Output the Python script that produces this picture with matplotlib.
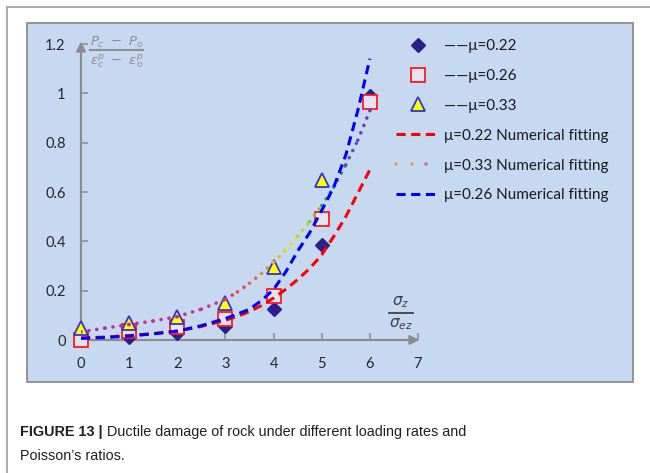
import matplotlib
matplotlib.use("Agg")
import matplotlib.pyplot as plt
import numpy as np
from matplotlib.lines import Line2D
from matplotlib.patches import Rectangle
from matplotlib.colors import LinearSegmentedColormap
from matplotlib.legend_handler import HandlerTuple
from matplotlib import font_manager

# ---------------- data ----------------
x_pts = [0, 1, 2, 3, 4, 5, 6]
mu022 = [0.0, 0.013, 0.027, 0.055, 0.124, 0.385, 0.99]
mu026 = [0.0, 0.036, 0.054, 0.085, 0.18, 0.49, 0.965]
x_tri = [0, 1, 2, 3, 4, 5]
mu033 = [0.047, 0.068, 0.092, 0.149, 0.297, 0.65]

x_fit = [0, 0.5, 1, 1.5, 2, 2.5, 3, 3.25, 3.5, 3.75, 4, 4.25, 4.5, 4.75, 5, 5.25, 5.5, 5.75, 6]
fit022 = [0.008, 0.012, 0.018, 0.026, 0.036, 0.055, 0.080, 0.096, 0.115, 0.14, 0.17,
          0.205, 0.245, 0.29, 0.345, 0.42, 0.50, 0.595, 0.69]
fit026 = [0.007, 0.010, 0.016, 0.025, 0.036, 0.058, 0.087, 0.105, 0.125, 0.16, 0.205,
          0.275, 0.36, 0.435, 0.525, 0.62, 0.75, 0.93, 1.14]
fit033 = [0.033, 0.048, 0.063, 0.077, 0.095, 0.125, 0.165, 0.195, 0.23, 0.27, 0.315,
          0.365, 0.42, 0.48, 0.545, 0.62, 0.71, 0.81, 0.93]

x_ticks = [0, 1, 2, 3, 4, 5, 6, 7]
y_ticks = [0, 0.2, 0.4, 0.6, 0.8, 1.0, 1.2]
y_ticklabels = ["0", "0.2", "0.4", "0.6", "0.8", "1", "1.2"]

legend_labels = ["——μ=0.22", "——μ=0.26", "——μ=0.33",
                 "μ=0.22 Numerical fitting", "μ=0.33 Numerical fitting",
                 "μ=0.26 Numerical fitting"]
caption_bold = "FIGURE 13 |"
caption_rest = " Ductile damage of rock under different loading rates and"
caption_line2 = "Poisson’s ratios."

# ---------------- fonts ----------------
names = {f.name for f in font_manager.fontManager.ttflist}
chart_font = "Lato" if "Lato" in names else "DejaVu Sans"
cap_font = "Liberation Sans Narrow" if "Liberation Sans Narrow" in names else "Liberation Sans"
cap_size = 12.6 if cap_font == "Liberation Sans Narrow" else 10.4

W, H = 650, 473
fig = plt.figure(figsize=(W / 100, H / 100), dpi=100)
fig.patch.set_facecolor("white")

def fx(px):
    return px / W

def fy(py):
    return 1 - py / H

# outer frame lines
fig.add_artist(Line2D([fx(7), 1], [fy(7), fy(7)], transform=fig.transFigure,
                      color="#a6a6a6", lw=1.3))
fig.add_artist(Line2D([fx(7), fx(7)], [fy(7), 0], transform=fig.transFigure,
                      color="#a6a6a6", lw=1.3))

# blue panel
fig.add_artist(Rectangle((fx(27), fy(382)), (633 - 27) / W, (382 - 23) / H,
                         transform=fig.transFigure, facecolor="#C6D9F0",
                         edgecolor="#8c8c8c", lw=1.3, zorder=0))

ax = fig.add_axes([fx(81), fy(340), 337 / W, 296 / H])
ax.set_xlim(0, 7)
ax.set_ylim(0, 1.2)
ax.patch.set_alpha(0)
for s in ax.spines.values():
    s.set_visible(False)

ax.set_xticks(x_ticks)
ax.set_yticks(y_ticks)
ax.set_yticklabels(y_ticklabels)
ax.tick_params(axis="both", direction="in", length=5, width=1.1, color="#8c8c8c",
               labelsize=10.5, labelcolor="#262626")
ax.tick_params(axis="x", pad=12)
ax.tick_params(axis="y", pad=11)
for lab in ax.get_xticklabels() + ax.get_yticklabels():
    lab.set_fontfamily(chart_font)

# axis arrows
ax.annotate("", xy=(7.03, 0), xytext=(0, 0),
            arrowprops=dict(arrowstyle="-|>", color="#8c8c8c", lw=1.5,
                            mutation_scale=14, shrinkA=0, shrinkB=0),
            annotation_clip=False)
ax.annotate("", xy=(0, 1.21), xytext=(0, 0),
            arrowprops=dict(arrowstyle="-|>", color="#8c8c8c", lw=1.5,
                            mutation_scale=14, shrinkA=0, shrinkB=0),
            annotation_clip=False)

# markers
ax.plot(x_pts, mu022, ls="none", marker="D", ms=7.5, mfc="#2B1F8C", mec="#2B1F8C",
        clip_on=False, zorder=3)
ax.plot(x_pts, mu026, ls="none", marker="s", ms=10, mfc="#E2E4F2", mec="#FF1A1A",
        mew=1.3, clip_on=False, zorder=4)
ax.plot(x_tri, mu033, ls="none", marker="^", ms=10, mfc="#FFFF00", mec="#3333CC",
        mew=1.3, clip_on=False, zorder=5)

# fitting curves
ax.plot(x_fit, fit022, color="#FF0000", lw=2.2, ls=(0, (3.0, 1.8)), zorder=6)
ax.plot(x_fit, fit026, color="#0000FF", lw=2.2, ls=(0, (3.0, 1.8)), zorder=7)

grad = LinearSegmentedColormap.from_list(
    "grad",
    [(0.0, "#B0309A"), (0.45, "#C8308A"), (0.55, "#E83A5A"), (0.64, "#F0802C"),
     (0.73, "#E8E020"), (0.80, "#A8D040"), (0.86, "#30A060"), (0.92, "#3A60C8"),
     (1.0, "#7A2AB0")])
for i in range(len(x_fit) - 1):
    xm = 0.5 * (x_fit[i] + x_fit[i + 1]) / 6.0
    ax.plot(x_fit[i:i + 2], fit033[i:i + 2], color=grad(xm), lw=2.6,
            ls=(0, (0.01, 2.2)), dash_capstyle="round", zorder=6.5)

# axis labels (fractions)
fig.text(fx(117), fy(42), r"$P_c\ -\ P_o$", color="#8f8f8f", fontsize=9.5,
         ha="center", va="center")
fig.add_artist(Line2D([fx(90), fx(143)], [fy(50.5), fy(50.5)],
                      transform=fig.transFigure, color="#8f8f8f", lw=1.5))
fig.text(fx(117), fy(61), r"$\varepsilon_c^p\ -\ \varepsilon_o^p$", color="#8f8f8f",
         fontsize=9.5, ha="center", va="center")

fig.text(fx(401), fy(302), r"$\sigma_z$", color="#404040", fontsize=11,
         ha="center", va="center")
fig.add_artist(Line2D([fx(389), fx(413)], [fy(312.7), fy(312.7)],
                      transform=fig.transFigure, color="#404040", lw=1.3))
fig.text(fx(401), fy(324), r"$\sigma_{ez}$", color="#404040", fontsize=11,
         ha="center", va="center")

# legend
h1 = Line2D([], [], ls="none", marker="D", ms=7.5, mfc="#2B1F8C", mec="#2B1F8C")
h2 = Line2D([], [], ls="none", marker="s", ms=10, mfc="#E2E4F2", mec="#FF1A1A", mew=1.3)
h3 = Line2D([], [], ls="none", marker="^", ms=10, mfc="#FFFF00", mec="#3333CC", mew=1.3)
h4 = Line2D([], [], color="#FF0000", lw=2.2, ls=(0, (3.0, 1.8)))
h5a = Line2D([], [], color="#F0A030", lw=2.6, ls=(0, (0.01, 4.4)), dash_capstyle="round")
h5b = Line2D([], [], color="#D86AA0", lw=2.6, ls=(2.2, (0.01, 4.4)), dash_capstyle="round")
h6 = Line2D([], [], color="#0000FF", lw=2.2, ls=(0, (3.0, 1.8)))
leg = fig.legend([h1, h2, h3, h4, (h5a, h5b), h6], legend_labels,
                 handler_map={tuple: HandlerTuple(ndivide=None, pad=0)},
                 loc="upper left", bbox_to_anchor=(fx(396), fy(39)),
                 frameon=False, prop={"family": chart_font, "size": 11},
                 handlelength=2.9, handletextpad=0.25, labelspacing=1.04,
                 borderaxespad=0, borderpad=0)
for t in leg.get_texts():
    t.set_color("#1a1a1a")

# caption
fig.canvas.draw()
r = fig.canvas.get_renderer()
tb = fig.text(fx(20), fy(436), caption_bold, fontsize=cap_size, fontweight="bold",
              family=cap_font, color="#231F20", va="baseline")
bb = tb.get_window_extent(renderer=r)
fig.text(bb.x1 / (W), fy(436), caption_rest, fontsize=cap_size, family=cap_font,
         color="#231F20", va="baseline")
fig.text(fx(20), fy(460), caption_line2, fontsize=cap_size, family=cap_font,
         color="#231F20", va="baseline")

fig.savefig("out.png", dpi=100, facecolor="white")
